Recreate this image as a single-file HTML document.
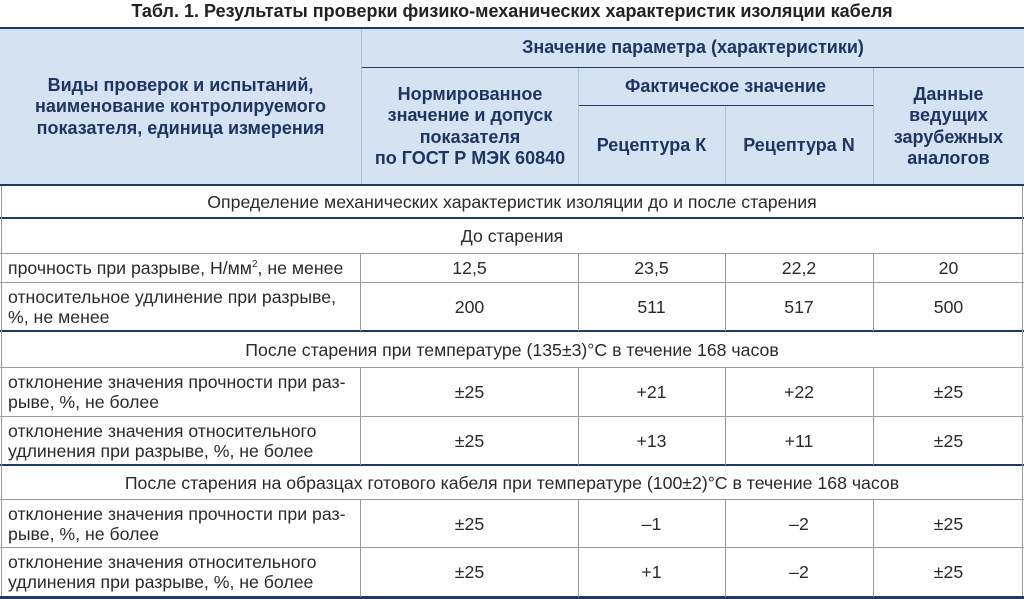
<!DOCTYPE html>
<html><head><meta charset="utf-8"><style>
body{margin:0;width:1024px;height:599px;background:#fff;position:relative;overflow:hidden;font-family:"Liberation Sans",Arial,sans-serif}
.a{position:absolute}
.t{position:absolute;display:flex;align-items:center;justify-content:center;text-align:center;font-size:17.7px;line-height:20px;color:#2a2a2a}
.h{font-weight:bold;color:#1f3561;line-height:21.5px;font-size:18px}
.l{justify-content:flex-start;text-align:left;padding-left:8px}
.hl{position:absolute;height:1px;background:#9a9a9a}
.nl{position:absolute;height:2px;background:#1f3a66}
.vl{position:absolute;width:1px;background:#9a9a9a}
.hv{position:absolute;width:1px;background:#b0c0d4}
sup{font-size:10px;line-height:0;vertical-align:7px}
</style></head><body>
<div class="t" style="left:0;top:0;width:1024px;height:22px;font-weight:bold;color:#222;font-size:18px">Табл. 1. Результаты проверки физико-механических характеристик изоляции кабеля</div>
<div class="a" style="left:0;top:28px;width:1024px;height:157px;background:#d4e2f2"></div>
<div class="nl" style="left:0;top:27px;width:1024px"></div>
<div class="a" style="left:362px;top:67px;width:662px;height:1px;background:#1f3a66"></div>
<div class="a" style="left:578px;top:105px;width:295px;height:1px;background:#1f3a66"></div>
<div class="hv" style="left:361px;top:29px;height:156px"></div>
<div class="hv" style="left:578px;top:68px;height:117px"></div>
<div class="hv" style="left:725px;top:106px;height:79px"></div>
<div class="hv" style="left:873px;top:68px;height:117px"></div>
<div class="t h" style="left:0;top:29px;width:361px;height:156px">Виды проверок и испытаний,<br>наименование контролируемого<br>показателя, единица измерения</div>
<div class="t h" style="left:362px;top:29px;width:662px;height:38px">Значение параметра (характеристики)</div>
<div class="t h" style="left:362px;top:68px;width:216px;height:117px">Нормированное<br>значение и допуск<br>показателя<br>по ГОСТ Р МЭК 60840</div>
<div class="t h" style="left:578px;top:68px;width:295px;height:37px">Фактическое значение</div>
<div class="t h" style="left:578px;top:106px;width:147px;height:79px">Рецептура К</div>
<div class="t h" style="left:725px;top:106px;width:148px;height:79px">Рецептура N</div>
<div class="t h" style="left:873px;top:68px;width:151px;height:117px">Данные<br>ведущих<br>зарубежных<br>аналогов</div>
<div class="nl" style="left:0;top:184px;width:1024px"></div>
<div class="nl" style="left:0;top:217px;width:1024px"></div>
<div class="hl" style="left:0;top:253px;width:1024px"></div>
<div class="hl" style="left:0;top:282px;width:1024px"></div>
<div class="nl" style="left:0;top:330px;width:1024px"></div>
<div class="hl" style="left:0;top:367px;width:1024px"></div>
<div class="hl" style="left:0;top:416px;width:1024px"></div>
<div class="nl" style="left:0;top:464px;width:1024px"></div>
<div class="hl" style="left:0;top:499px;width:1024px"></div>
<div class="hl" style="left:0;top:547px;width:1024px"></div>
<div class="nl" style="left:0;top:596px;width:1024px;height:3px"></div>
<div class="vl" style="left:1px;top:186px;height:410px"></div>
<div class="vl" style="left:1022px;top:186px;height:410px"></div>
<div class="vl" style="left:360px;top:254px;height:77px"></div><div class="vl" style="left:578px;top:254px;height:77px"></div><div class="vl" style="left:725px;top:254px;height:77px"></div><div class="vl" style="left:873px;top:254px;height:77px"></div>
<div class="vl" style="left:360px;top:368px;height:97px"></div><div class="vl" style="left:578px;top:368px;height:97px"></div><div class="vl" style="left:725px;top:368px;height:97px"></div><div class="vl" style="left:873px;top:368px;height:97px"></div>
<div class="vl" style="left:360px;top:500px;height:97px"></div><div class="vl" style="left:578px;top:500px;height:97px"></div><div class="vl" style="left:725px;top:500px;height:97px"></div><div class="vl" style="left:873px;top:500px;height:97px"></div>
<div class="t" style="left:0;top:186px;width:1024px;height:31px">Определение механических характеристик изоляции до и после старения</div>
<div class="t" style="left:0;top:219px;width:1024px;height:34px">До старения</div>
<div class="t l" style="left:0;top:254px;width:352px;height:28px"><span>прочность при разрыве, Н/мм<sup>2</sup>, не менее</span></div>
<div class="t" style="left:361px;top:254px;width:217px;height:28px">12,5</div><div class="t" style="left:578px;top:254px;width:147px;height:28px">23,5</div><div class="t" style="left:725px;top:254px;width:148px;height:28px">22,2</div><div class="t" style="left:873px;top:254px;width:151px;height:28px">20</div>
<div class="t l" style="left:0;top:283px;width:352px;height:47px">относительное удлинение при разрыве,<br>%, не менее</div>
<div class="t" style="left:361px;top:283px;width:217px;height:47px">200</div><div class="t" style="left:578px;top:283px;width:147px;height:47px">511</div><div class="t" style="left:725px;top:283px;width:148px;height:47px">517</div><div class="t" style="left:873px;top:283px;width:151px;height:47px">500</div>
<div class="t" style="left:0;top:332px;width:1024px;height:35px">После старения при температуре (135±3)°С в течение 168 часов</div>
<div class="t l" style="left:0;top:368px;width:352px;height:48px">отклонение значения прочности при раз-<br>рыве, %, не более</div>
<div class="t" style="left:361px;top:368px;width:217px;height:48px">±25</div><div class="t" style="left:578px;top:368px;width:147px;height:48px">+21</div><div class="t" style="left:725px;top:368px;width:148px;height:48px">+22</div><div class="t" style="left:873px;top:368px;width:151px;height:48px">±25</div>
<div class="t l" style="left:0;top:417px;width:352px;height:47px">отклонение значения относительного<br>удлинения при разрыве, %, не более</div>
<div class="t" style="left:361px;top:417px;width:217px;height:47px">±25</div><div class="t" style="left:578px;top:417px;width:147px;height:47px">+13</div><div class="t" style="left:725px;top:417px;width:148px;height:47px">+11</div><div class="t" style="left:873px;top:417px;width:151px;height:47px">±25</div>
<div class="t" style="left:0;top:466px;width:1024px;height:33px">После старения на образцах готового кабеля при температуре (100±2)°С в течение 168 часов</div>
<div class="t l" style="left:0;top:500px;width:352px;height:47px">отклонение значения прочности при раз-<br>рыве, %, не более</div>
<div class="t" style="left:361px;top:500px;width:217px;height:47px">±25</div><div class="t" style="left:578px;top:500px;width:147px;height:47px">–1</div><div class="t" style="left:725px;top:500px;width:148px;height:47px">–2</div><div class="t" style="left:873px;top:500px;width:151px;height:47px">±25</div>
<div class="t l" style="left:0;top:548px;width:352px;height:48px">отклонение значения относительного<br>удлинения при разрыве, %, не более</div>
<div class="t" style="left:361px;top:548px;width:217px;height:48px">±25</div><div class="t" style="left:578px;top:548px;width:147px;height:48px">+1</div><div class="t" style="left:725px;top:548px;width:148px;height:48px">–2</div><div class="t" style="left:873px;top:548px;width:151px;height:48px">±25</div>
</body></html>
